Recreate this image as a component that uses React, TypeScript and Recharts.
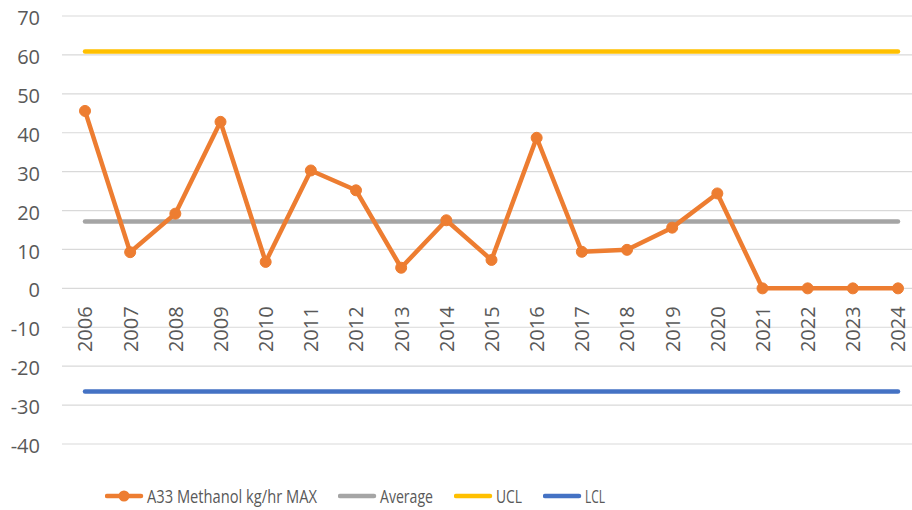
import React from 'react';
import { LineChart, Line, XAxis, YAxis, CartesianGrid, Legend } from 'recharts';

const years = ['2006','2007','2008','2009','2010','2011','2012','2013','2014','2015','2016','2017','2018','2019','2020','2021','2022','2023','2024'];
const methanol = [45.6, 9.3, 19.2, 42.8, 6.8, 30.3, 25.2, 5.3, 17.5, 7.3, 38.7, 9.4, 9.9, 15.6, 24.4, 0, 0, 0, 0];
const AVERAGE = 17.2;
const UCL = 60.9;
const LCL = -26.5;
const yTicks = [-40, -30, -20, -10, 0, 10, 20, 30, 40, 50, 60, 70];

const Y_MIN = -40;
const Y_MAX = 70;
const W = 912;
const H = 510;
const MARGIN = { top: 16, right: 0, left: 0, bottom: 26 };
const X_AXIS_H = 10;
const LEGEND_H = 30;
const PLOT_H = H - MARGIN.top - MARGIN.bottom - X_AXIS_H - LEGEND_H;

const ORANGE = '#ED7D31';
const GRAY = '#A5A5A5';
const YELLOW = '#FFC000';
const BLUE = '#4472C4';
const TEXT = '#595959';
const FONT = '"Open Sans", sans-serif';

const data = years.map((y, i) => ({
  year: y,
  value: methanol[i],
  avg: AVERAGE,
  ucl: UCL,
  lcl: LCL,
}));

const legendItems = [
  { name: 'A33 Methanol kg/hr MAX', color: ORANGE, dot: true, textW: 170 },
  { name: 'Average', color: GRAY, dot: false, textW: 53 },
  { name: 'UCL', color: YELLOW, dot: false, textW: 26 },
  { name: 'LCL', color: BLUE, dot: false, textW: 20 },
];

const XTick = (props: any) => {
  const { x, payload } = props;
  const zeroY = MARGIN.top + ((Y_MAX - 0) / (Y_MAX - Y_MIN)) * PLOT_H;
  const ty = zeroY + 18;
  return (
    <text
      x={x}
      y={ty}
      transform={`rotate(-90, ${x}, ${ty})`}
      textAnchor="end"
      dominantBaseline="central"
      fill={TEXT}
      fontSize={20}
      fontFamily={FONT}
    >
      {payload.value}
    </text>
  );
};

const renderLegend = () => (
  <div
    style={{
      display: 'flex',
      alignItems: 'center',
      height: LEGEND_H,
      paddingLeft: 105,
    }}
  >
    {legendItems.map((it) => (
      <div key={it.name} style={{ display: 'flex', alignItems: 'center', marginRight: 15 }}>
        <svg width={42} height={30} style={{ display: 'block' }}>
          <line x1={2} y1={15} x2={36} y2={15} stroke={it.color} strokeWidth={4.5} strokeLinecap="round" />
          {it.dot && <circle cx={19} cy={15} r={5.5} fill={it.color} />}
        </svg>
        <svg width={it.textW + 6} height={30} style={{ display: 'block', overflow: 'visible' }}>
          <text
            x={0}
            y={15}
            dominantBaseline="central"
            textLength={it.textW}
            lengthAdjust="spacingAndGlyphs"
            fill={TEXT}
            fontSize={19}
            fontFamily={FONT}
          >
            {it.name}
          </text>
        </svg>
      </div>
    ))}
  </div>
);

export default function App() {
  return (
    <div style={{ position: 'absolute', left: 0, top: 0, width: W, height: H, background: '#fff' }}>
      <LineChart width={W} height={H} data={data} margin={MARGIN}>
        <CartesianGrid vertical={false} stroke="#D9D9D9" strokeWidth={1.2} />
        <XAxis
          dataKey="year"
          scale="point"
          padding={{ left: 23, right: 14 }}
          height={X_AXIS_H}
          axisLine={false}
          tickLine={false}
          tickSize={0}
          tickMargin={0}
          interval={0}
          tick={<XTick />}
        />
        <YAxis
          domain={[Y_MIN, Y_MAX]}
          ticks={yTicks}
          width={62}
          axisLine={false}
          tickLine={false}
          tickSize={0}
          tickMargin={22}
          tick={{ fill: TEXT, fontSize: 20, fontFamily: FONT, dy: 2 }}
          interval={0}
        />
        <Legend
          content={renderLegend}
          verticalAlign="bottom"
          wrapperStyle={{ position: 'absolute', top: 481, bottom: 'auto', left: 0, width: W, height: LEGEND_H }}
        />
        <Line dataKey="avg" stroke={GRAY} strokeWidth={4.5} strokeLinecap="round" dot={false} isAnimationActive={false} />
        <Line dataKey="ucl" stroke={YELLOW} strokeWidth={4.5} strokeLinecap="round" dot={false} isAnimationActive={false} />
        <Line dataKey="lcl" stroke={BLUE} strokeWidth={4.5} strokeLinecap="round" dot={false} isAnimationActive={false} />
        <Line
          dataKey="value"
          stroke={ORANGE}
          strokeWidth={4.5}
          strokeLinejoin="round"
          dot={{ r: 5.5, fill: ORANGE, stroke: ORANGE, strokeWidth: 1 }}
          isAnimationActive={false}
        />
      </LineChart>
    </div>
  );
}
